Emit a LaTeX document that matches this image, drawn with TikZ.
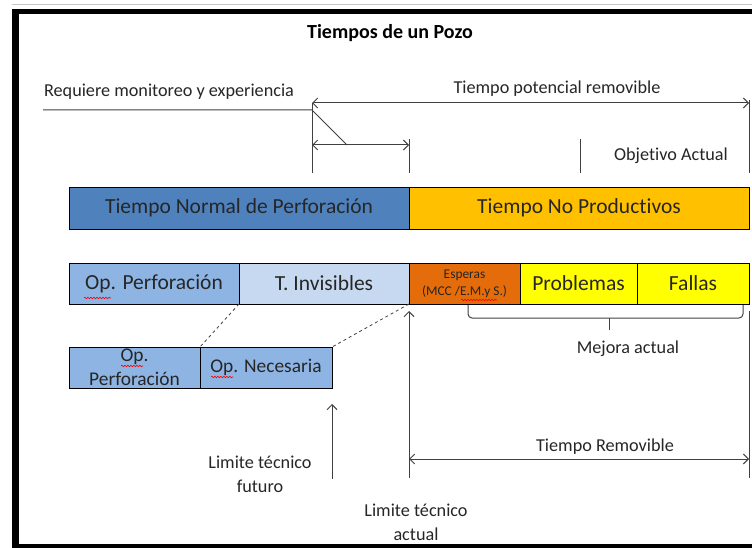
\documentclass[tikz,border=0pt]{standalone}
\usepackage{fontspec}
\setmainfont{Carlito}[Ligatures={NoCommon}]
\usepackage{xcolor}
\usetikzlibrary{positioning,arrows.meta,decorations.pathmorphing}
\definecolor{normalblue}{HTML}{4F81BD}
\definecolor{npgold}{HTML}{FFC000}
\definecolor{opblue}{HTML}{8DB4E2}
\definecolor{invblue}{HTML}{C6D9F1}
\definecolor{waitorange}{HTML}{E46C0A}
\definecolor{probyellow}{HTML}{FFFF00}
\definecolor{linegray}{HTML}{404040}
\definecolor{textgray}{HTML}{262626}

\begin{document}
\begin{tikzpicture}[x=1pt, y=-1pt,
        bar/.style={rectangle, draw=black, line width=0.8pt, outer sep=0pt, inner sep=0pt,
                   minimum height=42pt, text=textgray, align=center,
                   font=\fontsize{21.5}{24}\selectfont},
        subbar/.style={bar, fill=opblue, minimum height=41pt, font=\fontsize{19.4}{23.5}\selectfont},
        note/.style={text=textgray, inner sep=0pt, align=center, font=\fontsize{18.2}{24}\selectfont},
        dimline/.style={draw=linegray, line width=1pt},
        arrow/.style={dimline, -{Straight Barb[length=5pt,width=10pt]}},
        dimboth/.style={dimline, {Straight Barb[length=5pt,width=10pt]}-{Straight Barb[length=5pt,width=10pt]}},
        spell/.style={draw=red, line width=0.6pt, decorate,
                   decoration={snake, segment length=3pt, amplitude=0.8pt}}
    ]
        \useasboundingbox (0,0) rectangle (752,548);
        \draw[gray!45, line width=1pt] (12,5) -- (752,5);
        \draw[line width=5pt] (12,11.7) -- (752,11.7);
        \draw[line width=7pt] (15.5,9.2) -- (15.5,548);
        \draw[line width=5pt] (12,546.5) -- (752,546.5);

        \node[font=\bfseries\fontsize{20}{24}\selectfont] (title) at (390,33) {Tiempos de un Pozo};

        \node[bar, fill=normalblue, minimum width=340pt, anchor=north west] (normal) at (69,187) {Tiempo Normal de Perforación};
        \node[bar, fill=npgold, minimum width=340pt, right=0pt of normal] (noprod) {Tiempo No Productivos};

        \node[bar, fill=opblue, minimum width=170pt, minimum height=41pt, anchor=north west] (opperf) at (69,263) {Op. Perforación};
        \node[bar, fill=invblue, minimum width=170pt, minimum height=41pt, right=0pt of opperf] (invis) {T. Invisibles};
        \node[bar, fill=waitorange, minimum width=111pt, minimum height=41pt, right=0pt of invis,
              font=\fontsize{13.4}{17}\selectfont] (esperas) {Esperas\\(MCC /E.M.y S.)};
        \node[bar, fill=probyellow, minimum width=117pt, minimum height=41pt, right=0pt of esperas] (problemas) {Problemas};
        \node[bar, fill=probyellow, minimum width=112pt, minimum height=41pt, right=0pt of problemas] (fallas) {Fallas};

        \node[subbar, minimum width=131pt, anchor=north west] (opperf2) at (69,347) {Op.\\Perforación};
        \node[subbar, minimum width=132pt, right=0pt of opperf2] (opnec) {Op. Necesaria};

        \draw[dimline, dashed, line width=0.8pt] (opperf.south east) -- (opperf2.north east);
        \draw[dimline, dashed, line width=0.8pt] (invis.south east) -- (opnec.north east);

        \node[note] (reqlbl) at (169,92) {Requiere monitoreo y experiencia};
        \node[note] (potlbl) at (557,89) {Tiempo potencial removible};
        \node[note] (objlbl) at (671,156) {Objetivo Actual};
        \node[note] (mejlbl) at (628,349) {Mejora actual};
        \node[note] (remlbl) at (605,447) {Tiempo Removible};
        \node[note] (futlbl) at (260,474) {Limite técnico\\futuro};
        \node[note] (actlbl) at (416,522) {Limite técnico\\actual};

        \foreach \x/\t in {312/103, 409/139, 580/139, 749/100}
            \draw[dimline] (\x,\t) -- (\x,173);

        \coordinate (potL) at (312,103);
        \coordinate (potR) at (749,103);
        \coordinate (monL) at (312,145);
        \coordinate (monR) at (409,145);
        \coordinate (reqL) at (43,110);
        \coordinate (reqK) at (312,110);
        \coordinate (reqM) at (347,145);
        \draw[dimboth] (potL) -- (potR);
        \draw[dimboth] (monL) -- (monR);
        \draw[dimline] (reqL) -- (reqK) -- (reqM);

        \coordinate (mejA) at (468,305);
        \coordinate (mejB) at (743,305);
        \coordinate (mejM) at (609,318);
        \draw[dimline, rounded corners=4pt] (mejA) -- ++(0,13) -- ++(275,0) -- (mejB);
        \draw[dimline] (mejM) -- ++(0,12);

        \coordinate (futB) at (332,479);
        \coordinate (futT) at (332,404);
        \coordinate (actB) at (409,478);
        \coordinate (actT) at (409,311);
        \coordinate (remT) at (749,311);
        \coordinate (remB) at (749,478);
        \coordinate (remL) at (409,459);
        \coordinate (remR) at (749,459);
        \draw[arrow] (futB) -- (futT);
        \draw[arrow] (actB) -- (actT);
        \draw[dimline] (remT) -- (remB);
        \draw[dimboth] (remL) -- (remR);

        \draw[spell] (84,298) -- (111,298);
        \draw[spell] (461,300) -- (497,300);
        \draw[spell] (121,366) -- (143,366);
        \draw[spell] (211,377) -- (233,377);
    \end{tikzpicture}
\end{document}
